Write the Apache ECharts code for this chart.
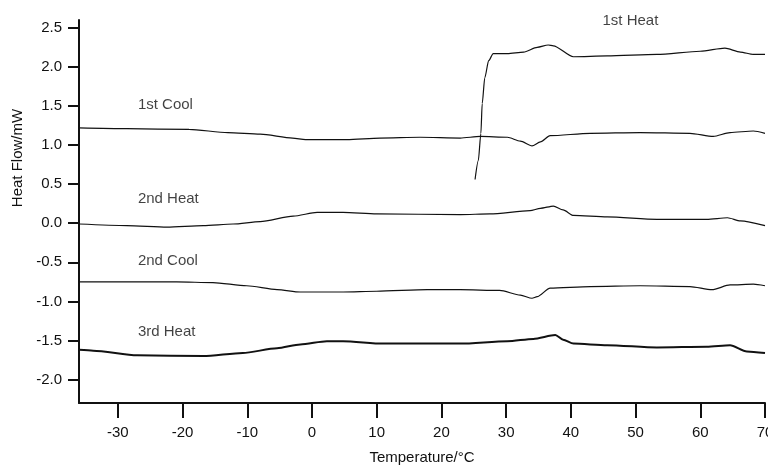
<!DOCTYPE html>
<html>
<head>
<meta charset="utf-8">
<script src="https://cdn.jsdelivr.net/npm/echarts@6/dist/echarts.min.js"></script>
<style>
  html, body { margin: 0; padding: 0; background: #fff; }
  #chart { width: 768px; height: 466px; }
</style>
</head>
<body>
<div id="chart"></div>
<script>
// DSC traces: [temperature °C, heat flow mW]
const HEAT_1 = [
  [25.2, 0.56], [25.7, 0.80], [26.1, 1.15], [26.3, 1.53], [26.7, 1.86], [27.3, 2.08],
  [28.0, 2.17], [30.2, 2.17], [32.7, 2.19], [34.8, 2.25], [36.5, 2.28], [37.3, 2.27],
  [40.4, 2.13], [45.6, 2.14], [53.3, 2.16], [60.0, 2.20], [63.8, 2.24], [66.2, 2.19],
  [68.2, 2.16], [70.0, 2.16],
];
const COOL_1 = [
  [-36, 1.22], [-28.6, 1.21], [-19, 1.20], [-13, 1.16], [-8, 1.14], [-3, 1.09],
  [-1, 1.07], [5.4, 1.07], [10.5, 1.09], [16.7, 1.10], [22.9, 1.09], [26, 1.11],
  [30.2, 1.10], [32.2, 1.05], [34, 0.99], [35.3, 1.04], [36.8, 1.12], [43, 1.15],
  [50.7, 1.16], [58.4, 1.15], [62, 1.11], [64.6, 1.16], [68.2, 1.18], [70, 1.15],
];
const HEAT_2 = [
  [-36, -0.01], [-28.6, -0.03], [-22.4, -0.05], [-16.8, -0.03], [-12.2, -0.01],
  [-8, 0.02], [-2.9, 0.09], [0.8, 0.14], [4.8, 0.14], [10, 0.12], [22.9, 0.11],
  [27.5, 0.12], [33.7, 0.16], [35.3, 0.19], [37.3, 0.22], [38.8, 0.17], [40.4, 0.10],
  [45.6, 0.08], [53.3, 0.05], [61, 0.05], [64.2, 0.07], [66.2, 0.03], [70, -0.03],
];
const COOL_2 = [
  [-36, -0.75], [-20.9, -0.75], [-15.3, -0.76], [-10.1, -0.80], [-5.4, -0.85],
  [-1.8, -0.88], [4.8, -0.88], [10, -0.87], [17.8, -0.85], [22.9, -0.85], [29, -0.86],
  [32.2, -0.92], [34, -0.96], [34.8, -0.94], [36.8, -0.83], [43, -0.81], [50.7, -0.80],
  [58.4, -0.81], [61.8, -0.85], [64.6, -0.79], [68.2, -0.78], [70, -0.80],
];
const HEAT_3 = [
  [-36, -1.62], [-33.8, -1.63], [-27, -1.69], [-16.8, -1.70], [-10.7, -1.66],
  [-5.4, -1.60], [-1.8, -1.55], [2.3, -1.51], [4.8, -1.51], [11, -1.54], [22.9, -1.54],
  [30.2, -1.51], [34.2, -1.48], [37.6, -1.43], [38.8, -1.49], [40.4, -1.54],
  [45.6, -1.56], [53.3, -1.59], [61, -1.58], [64.6, -1.56], [67.2, -1.64], [70, -1.66],
];

const LABEL_TEXT = ['1st Heat', '1st Cool', '2nd Heat', '2nd Cool', '3rd Heat'];
const LABEL_X = [49.2, -26.9, -26.9, -26.9, -26.9];
const LABEL_Y = [2.59, 1.52, 0.31, -0.48, -1.39];

const X_TICKS = [-30, -20, -10, 0, 10, 20, 30, 40, 50, 60, 70];
const Y_TICKS = [-2.0, -1.5, -1.0, -0.5, 0.0, 0.5, 1.0, 1.5, 2.0, 2.5];

const FONT = 'Liberation Sans, Arial, sans-serif';
const INK = '#111';

function trace(data, width) {
  return {
    type: 'line',
    data,
    showSymbol: false,
    smooth: 0.25,
    smoothMonotone: 'x',
    lineStyle: { color: INK, width: width || 1.2 },
    silent: true,
  };
}

const chart = echarts.init(document.getElementById('chart'));
chart.setOption({
  animation: false,
  grid: { left: 79, right: 3, top: 20, bottom: 63, outerBoundsMode: 'none', containLabel: false },
  xAxis: {
    type: 'value',
    min: -36,
    max: 70,
    name: 'Temperature/°C',
    nameLocation: 'middle',
    nameGap: 47,
    nameTextStyle: { fontFamily: FONT, fontSize: 15, color: INK },
    axisLine: { onZero: false, lineStyle: { color: INK, width: 2 } },
    axisTick: { customValues: X_TICKS, length: 15, lineStyle: { color: INK, width: 2 } },
    axisLabel: {
      customValues: X_TICKS, margin: 22, fontFamily: FONT, fontSize: 15, color: INK,
      hideOverlap: false,
    },
    splitLine: { show: false },
  },
  yAxis: {
    type: 'value',
    min: -2.3,
    max: 2.6,
    axisLine: { onZero: false, lineStyle: { color: INK, width: 2 } },
    axisTick: { customValues: Y_TICKS, length: 11, lineStyle: { color: INK, width: 2 } },
    axisLabel: {
      customValues: Y_TICKS, margin: 17, fontFamily: FONT, fontSize: 15, color: INK,
      formatter: v => v.toFixed(1),
    },
    splitLine: { show: false },
  },
  graphic: [{
    type: 'text',
    x: 18,
    y: 158,
    rotation: Math.PI / 2,
    style: {
      text: 'Heat Flow/mW',
      font: '15px ' + FONT,
      fill: INK,
      align: 'center',
      verticalAlign: 'middle',
    },
  }],
  series: [
    trace(COOL_1),
    trace(HEAT_2),
    trace(COOL_2),
    trace(HEAT_3, 2),
    trace(HEAT_1),
    {
      type: 'scatter',
      clip: false,
      silent: true,
      symbolSize: 0,
      data: LABEL_TEXT.map((t, i) => ({
        value: [LABEL_X[i], LABEL_Y[i]],
        name: t,
        label: { align: i === 0 ? 'center' : 'left' },
      })),
      label: {
        show: true,
        position: [0, 0],
        verticalAlign: 'middle',
        formatter: p => p.name,
        fontFamily: FONT,
        fontSize: 15,
        color: INK,
      },
    },
  ],
});
</script>
</body>
</html>
